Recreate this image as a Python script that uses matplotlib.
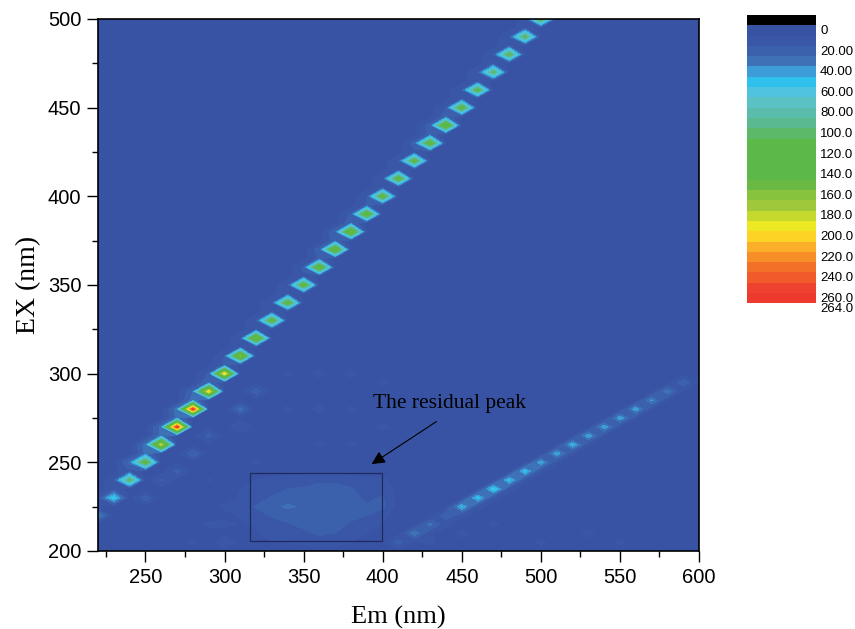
import numpy as np
import matplotlib
matplotlib.use('Agg')
import matplotlib.pyplot as plt
from matplotlib.colors import ListedColormap, BoundaryNorm
from matplotlib.patches import Rectangle

# grid of the scan
em = np.arange(220, 610, 10)
ex = np.arange(200, 505, 5)
background = 6

# first order line, em = ex
first_em = [220, 230, 240, 250, 260, 270, 280, 290, 300, 310, 320, 330, 340, 350, 360,
            370, 380, 390, 400, 410, 420, 430, 440, 450, 460, 470, 480, 490, 500]
first_val = [42, 62, 105, 125, 185, 262, 262, 205, 205, 165, 160, 130, 130, 130, 145,
             150, 155, 140, 130, 130, 125, 135, 150, 130, 120, 105, 115, 110, 120]
first_halo = [10, 15, 18, 32, 34, 33, 35, 30, 22, 20, 18, 18, 20, 18, 22,
              26, 28, 22, 18, 18, 18, 24, 26, 20, 18, 18, 20, 18, 12]

# second order line, em = 2 * ex
second_em = [410, 420, 430, 440, 450, 460, 470, 480, 490, 500, 510, 520, 530, 540, 550,
             560, 570, 580, 590]
second_ex = [205, 210, 215, 220, 225, 230, 235, 240, 245, 250, 255, 260, 265, 270, 275,
             280, 285, 290, 295]
second_val = [24, 38, 34, 28, 52, 56, 62, 55, 55, 48, 48, 52, 48, 48, 48,
              48, 42, 38, 28]
second_strip = [9, 11, 12, 12, 13, 13, 13, 12, 12, 11, 11, 11, 10, 10, 10,
                9, 9, 8, 8]

# small side peaks near the first order line
side_em = [250, 260, 270, 280, 290, 310, 320, 400, 310, 330, 300]
side_ex = [230, 240, 245, 255, 265, 280, 290, 225, 270, 210, 205]
side_val = [26, 22, 24, 30, 24, 33, 26, 22, 20, 17, 18]

# faint raised floor around the peaks
faint_em = [340, 360, 380, 400, 340, 360, 380, 400, 420, 360, 380, 400, 280, 290, 300,
            300, 320, 290, 430, 450, 470, 500, 530, 550]
faint_ex = [300, 300, 300, 295, 280, 280, 280, 270, 265, 260, 260, 255, 205, 215, 225,
            215, 250, 240, 205, 210, 215, 205, 210, 205]
faint_val = [12, 13, 13, 12, 12, 13, 12, 13, 12, 12, 12, 13, 12, 12, 12,
             13, 12, 11, 12, 13, 12, 12, 13, 12]

# residual peak
res_em = [310, 320, 330, 340, 350, 360, 370, 380, 390, 400]
res_ex = [240, 235, 230, 225, 220, 215, 210, 205]
res_val = [[9, 10, 12, 14, 16, 19, 18, 14, 11, 12],
           [10, 12, 16, 20, 21, 22, 23, 21, 14, 16],
           [11, 15, 21, 24, 24, 25, 25, 23, 18, 21],
           [13, 21, 27, 32, 28, 25, 25, 24, 21, 23],
           [11, 15, 21, 24, 25, 25, 24, 23, 20, 12],
           [9, 11, 15, 19, 23, 24, 24, 18, 12, 10],
           [8, 9, 12, 14, 17, 22, 20, 14, 10, 9],
           [8, 8, 9, 10, 12, 14, 13, 10, 9, 8]]

# colour bands
levels = [0, 10, 20, 30, 40, 50, 60, 70, 80, 90, 100, 110, 120, 130, 140, 150, 160,
          170, 180, 190, 200, 210, 220, 230, 240, 250, 260, 264]
band_colors = ['#3953a4', '#3a57a7', '#3b61ad', '#3e72b6', '#3c9dd9', '#2fc0ee', '#4fc3e0',
               '#5bc2c4', '#5abcab', '#5ab98f', '#5bb96a', '#5cb947', '#5cb947', '#5cb947',
               '#5cb947', '#6bb945', '#88c33e', '#9fc93b', '#c4d82e', '#ece824', '#fdd423',
               '#fbae27', '#f78e28', '#f37029', '#f15a29', '#ef4130', '#ee3a2e']
bar_labels = ['0', '20.00', '40.00', '60.00', '80.00', '100.0', '120.0', '140.0', '160.0',
              '180.0', '200.0', '220.0', '240.0', '260.0', '264.0']
bar_pos = [0, 2, 4, 6, 8, 10, 12, 14, 16, 18, 20, 22, 24, 26, 27]


def idx(arr, v):
    return int(np.argmin(np.abs(arr - v)))


Z = np.full((len(ex), len(em)), float(background))
for i in range(len(faint_em)):
    Z[idx(ex, faint_ex[i]), idx(em, faint_em[i])] = faint_val[i]
for i, v in enumerate(first_em):
    if v - 10 >= 220:
        Z[idx(ex, v), idx(em, v - 10)] = first_halo[i]
    if v + 5 <= 500:
        Z[idx(ex, v + 5), idx(em, v)] = first_halo[i]
for i, v in enumerate(first_em):
    Z[idx(ex, v), idx(em, v)] = first_val[i]
for i in range(len(res_ex)):
    for j in range(len(res_em)):
        Z[idx(ex, res_ex[i]), idx(em, res_em[j])] = res_val[i][j]
for i in range(len(side_em)):
    Z[idx(ex, side_ex[i]), idx(em, side_em[i])] = side_val[i]
for i in range(len(second_em)):
    if second_em[i] + 10 <= 600:
        Z[idx(ex, second_ex[i]), idx(em, second_em[i] + 10)] = second_strip[i]
for i in range(len(second_em)):
    Z[idx(ex, second_ex[i]), idx(em, second_em[i])] = second_val[i]

W, H = 855.0, 629.0
fig = plt.figure(figsize=(8.55, 6.29), dpi=100)
ax = fig.add_axes([98 / W, 1 - 551 / H, 601 / W, 532 / H])
ax.contourf(em, ex, Z, levels=levels, colors=band_colors)
ax.set_xlim(220, 600)
ax.set_ylim(200, 500)

ax.set_xticks(np.arange(250, 601, 50))
ax.set_xticks(np.arange(225, 601, 25), minor=True)
ax.set_yticks(np.arange(200, 501, 50))
ax.set_yticks(np.arange(225, 501, 50), minor=True)
ax.tick_params(which='major', length=8, width=1, labelsize=14.5, pad=4)
ax.tick_params(which='minor', length=4, width=1)
for label in ax.get_xticklabels() + ax.get_yticklabels():
    label.set_fontfamily('Liberation Sans')
for s in ax.spines.values():
    s.set_linewidth(1.2)

ax.set_xlabel('Em (nm)', family='Liberation Serif', fontsize=19, labelpad=14)
ax.set_ylabel('EX (nm)', family='Liberation Serif', fontsize=20, labelpad=5)

ax.add_patch(Rectangle((316, 205.6), 83.5, 38.6, fill=False, edgecolor='#1f2a5c', linewidth=0.9))
ax.text(393.7, 283, 'The residual peak', family='Liberation Serif', fontsize=15.5,
        va='center', ha='left')
ax.annotate('', xy=(393, 249), xytext=(434, 273),
            arrowprops=dict(arrowstyle='-|>', color='black', linewidth=0.8, mutation_scale=20,
                            shrinkA=0, shrinkB=0))

# colour bar
cax = fig.add_axes([747 / W, 1 - 307.5 / H, 69 / W, 292.5 / H])
all_colors = ['black'] + band_colors
rows = np.arange(-1, 27).reshape(-1, 1)
edges = np.arange(-1, 28)
cax.pcolormesh([0, 1], edges, rows, cmap=ListedColormap(all_colors),
               norm=BoundaryNorm(np.arange(-1.5, 27.5), len(all_colors)))
cax.set_ylim(27, -1)
cax.set_xlim(0, 1)
cax.set_xticks([])
cax.yaxis.tick_right()
cax.set_yticks([p + 0.4 for p in bar_pos])
cax.set_yticklabels(bar_labels, family='Liberation Sans', fontsize=9.5)
cax.tick_params(axis='y', length=0, pad=3)
for s in cax.spines.values():
    s.set_visible(False)

fig.savefig('out.png', dpi=100)
